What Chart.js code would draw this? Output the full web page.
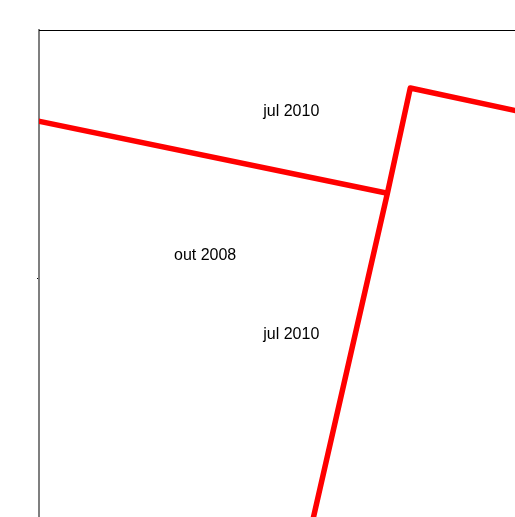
<!DOCTYPE html>
<html>
<head>
<meta charset="utf-8">
<script src="https://cdn.jsdelivr.net/npm/chart.js@4/dist/chart.umd.min.js"></script>
<style>
  html, body { margin: 0; padding: 0; overflow: hidden; background: #fff; }
  #wrap { width: 515px; height: 517px; overflow: hidden; }
  canvas { display: block; }
</style>
</head>
<body>
<div id="wrap"><canvas id="c" width="515" height="526" style="width:515px;height:526px"></canvas></div>
<script>
// Series (path segments, some points lie outside the visible window)
const pathAX = [-0.5, 7.32];
const pathAY = [8.26, 6.71];
const pathBX = [5.56, 7.32, 7.80, 10.95];
const pathBY = [-0.69, 6.71, 8.83, 8.18];

// Text labels and their anchor positions (data units, baseline)
const labelTexts = ['jul 2010', 'out 2008', 'jul 2010'];
const labelX = [5.30, 3.49, 5.30];
const labelY = [8.26, 5.36, 3.78];

// Axis range and ticks
const xRange = [0, 10];
const yRange = [0, 10];
const yTicks = [5];

const toPts = (xs, ys) => xs.map((x, i) => ({ x: x, y: ys[i] }));

const labelPlugin = {
  id: 'textLabels',
  afterDatasetsDraw(chart) {
    const ctx = chart.ctx;
    const xs = chart.scales.x, ys = chart.scales.y;
    ctx.save();
    ctx.fillStyle = '#000';
    ctx.font = "16px 'Liberation Sans', Arial, sans-serif";
    ctx.textAlign = 'center';
    ctx.textBaseline = 'alphabetic';
    labelTexts.forEach((t, i) => {
      ctx.fillText(t, xs.getPixelForValue(labelX[i]), ys.getPixelForValue(labelY[i]));
    });
    ctx.restore();
  }
};

new Chart(document.getElementById('c'), {
  type: 'scatter',
  data: {
    datasets: [
      { data: toPts(pathAX, pathAY), showLine: true, borderColor: '#ff0000', borderWidth: 5.5,
        pointRadius: 0, pointHoverRadius: 0, clip: 0, borderJoinStyle: 'round', tension: 0 },
      { data: toPts(pathBX, pathBY), showLine: true, borderColor: '#ff0000', borderWidth: 5.5,
        pointRadius: 0, pointHoverRadius: 0, clip: 0, borderJoinStyle: 'round', tension: 0 }
    ]
  },
  options: {
    responsive: false,
    animation: false,
    events: [],
    layout: { padding: { left: 37, top: 30, right: 0, bottom: 0 } },
    plugins: { legend: { display: false }, tooltip: { enabled: false } },
    scales: {
      x: {
        type: 'linear', position: 'top', min: xRange[0], max: xRange[1],
        ticks: { display: false },
        grid: { drawOnChartArea: false, drawTicks: false },
        border: { display: true, color: '#000', width: 1 }
      },
      y: {
        type: 'linear', position: 'left', min: yRange[0], max: yRange[1],
        afterBuildTicks: (s) => { s.ticks = yTicks.map(v => ({ value: v })); },
        ticks: { display: false },
        grid: { drawOnChartArea: false, drawTicks: true, tickLength: 2, color: '#000', lineWidth: 1 },
        border: { display: true, color: 'rgba(0,0,0,0.5)', width: 2 }
      }
    }
  },
  plugins: [labelPlugin]
});
</script>
</body>
</html>
